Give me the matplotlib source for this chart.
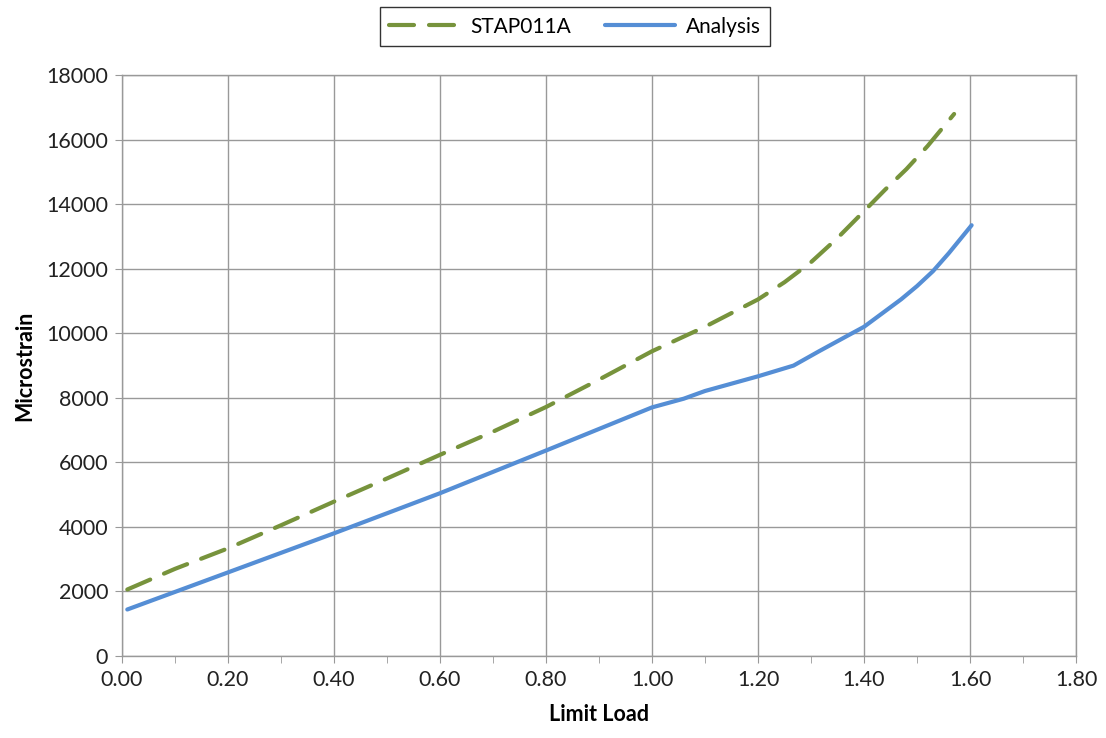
import numpy as np
import matplotlib
matplotlib.use("Agg")
from matplotlib import pyplot as plt
from matplotlib.ticker import MultipleLocator, FormatStrFormatter

plt.rcParams['font.family'] = ['Lato', 'DejaVu Sans']

# test data (STAP011A)
stap_load = [0.01, 0.10, 0.20, 0.30, 0.40, 0.50, 0.60, 0.70, 0.80, 0.90,
             1.00, 1.10, 1.20, 1.25, 1.30, 1.35, 1.40, 1.44, 1.48, 1.52, 1.57]
stap_strain = [2060, 2700, 3335, 4050, 4783, 5500, 6233, 6950, 7714, 8563,
               9441, 10200, 11047, 11580, 12200, 12950, 13780, 14450, 15084,
               15800, 16792]

# analysis prediction
ana_load = [0.01, 0.20, 0.40, 0.60, 0.80, 1.00, 1.06, 1.10, 1.20, 1.267,
            1.315, 1.372, 1.40, 1.434, 1.47, 1.50, 1.53, 1.56, 1.603]
ana_strain = [1441, 2590, 3801, 5043, 6366, 7702, 7972, 8210, 8665, 8997,
              9440, 9950, 10199, 10612, 11050, 11460, 11920, 12480, 13345]

green = '#77933C'
blue = '#558ED5'
grey = '#999999'

fig = plt.figure(figsize=(11.06, 7.38), dpi=100)
ax = fig.add_axes([0.1103, 0.1111, 0.8626, 0.7873])

p1, = ax.plot(stap_load, stap_strain, color=green, lw=3.0,
              dashes=(6.0, 3.6), dash_capstyle='round', label='STAP011A')
p2, = ax.plot(ana_load, ana_strain, color=blue, lw=3.0,
              solid_capstyle='round', label='Analysis')

ax.set_xlim(0, 1.8)
ax.set_ylim(0, 18000)
ax.xaxis.set_major_locator(MultipleLocator(0.2))
ax.xaxis.set_minor_locator(MultipleLocator(0.1))
ax.yaxis.set_major_locator(MultipleLocator(2000))
ax.xaxis.set_major_formatter(FormatStrFormatter('%.2f'))

ax.grid(True, which='major', color=grey, lw=1.0)
ax.set_axisbelow(True)
for s in ax.spines.values():
    s.set_color(grey)
    s.set_linewidth(1.0)
ax.tick_params(which='both', direction='out', length=5, color=grey,
               labelsize=15.5, labelcolor='#222222')
ax.tick_params(axis='x', pad=5)
ax.tick_params(axis='y', pad=5)

ax.set_xlabel('Limit Load', fontsize=15.5, fontweight='bold', labelpad=10)
ax.set_ylabel('Microstrain', fontsize=15.5, fontweight='bold', labelpad=8)

leg = fig.legend(handles=[p1, p2], loc='center', bbox_to_anchor=(0.52, 0.964),
                 ncol=2, fontsize=15, frameon=True, fancybox=False,
                 handlelength=3.4, columnspacing=1.6, borderpad=0.45,
                 handletextpad=0.5)
leg.get_frame().set_edgecolor('black')
leg.get_frame().set_linewidth(1.0)

fig.savefig('out.png', dpi=100)
